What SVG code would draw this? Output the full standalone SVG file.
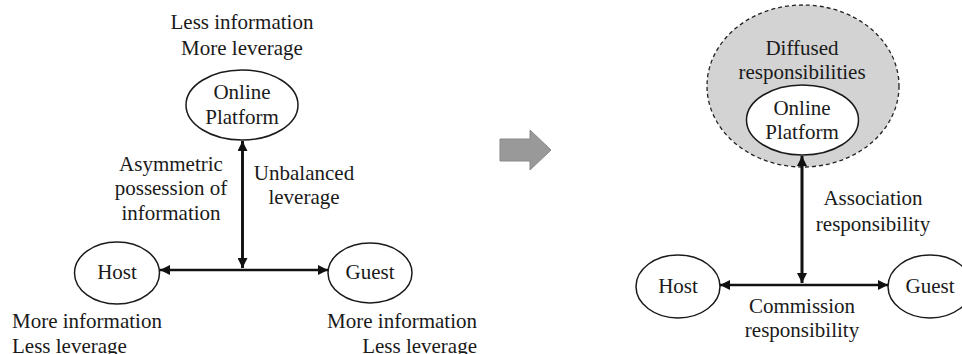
<svg xmlns="http://www.w3.org/2000/svg" width="962" height="354" viewBox="0 0 962 354">
<defs>
<style>
text{font-family:"Liberation Serif","Times New Roman",serif;font-size:21px;fill:#1a1a1a;text-anchor:middle}
.l{text-anchor:start}
.r{text-anchor:end}
.node{fill:#fff;stroke:#1a1a1a;stroke-width:1.5}
.conn{stroke:#111;stroke-width:2.6;fill:none;marker-start:url(#ah);marker-end:url(#ah)}
.half{stroke:#111;stroke-width:2.6;fill:none;marker-end:url(#ah)}
</style>
<marker id="ah" viewBox="0 0 10 10" refX="10" refY="5" markerWidth="11" markerHeight="10" markerUnits="userSpaceOnUse" orient="auto-start-reverse">
<path d="M0,0 L10,5 L0,10 z" fill="#111"/>
</marker>
</defs>
<rect width="962" height="354" fill="#fff"/>

<!-- Left panel -->
<g id="left-platform-label">
<text x="242" y="29">Less information</text>
<text x="242" y="55">More leverage</text>
</g>
<g id="left-platform">
<ellipse class="node" cx="242" cy="105" rx="56" ry="35"/>
<text x="242" y="99">Online</text>
<text x="242" y="124">Platform</text>
</g>
<g id="left-host">
<ellipse class="node" cx="117" cy="273" rx="42.5" ry="31"/>
<text x="117" y="279">Host</text>
</g>
<g id="left-guest">
<ellipse class="node" cx="370" cy="273" rx="42" ry="30"/>
<text x="370" y="279">Guest</text>
</g>
<g id="left-host-label">
<text class="l" x="12" y="328">More information</text>
<text class="l" x="12" y="353">Less leverage</text>
</g>
<g id="left-guest-label">
<text class="r" x="477" y="328">More information</text>
<text class="r" x="477" y="353">Less leverage</text>
</g>
<g id="left-edge-labels">
<text x="171" y="171">Asymmetric</text>
<text x="171" y="195">possession of</text>
<text x="171" y="220">information</text>
<text x="304" y="180">Unbalanced</text>
<text x="304" y="204">leverage</text>
</g>

<!-- transition arrow -->
<g id="transition-arrow">
<path d="M500,139 L530,139 L530,130 L551,150 L530,170 L530,161 L500,161 z" fill="#999" stroke="#888" stroke-width="1"/>
</g>

<!-- Right panel -->
<g id="right-diffused">
<ellipse cx="803" cy="86" rx="96" ry="81" fill="#d3d3d3" stroke="#222" stroke-width="1.3" stroke-dasharray="4,3"/>
<text x="802" y="55">Diffused</text>
<text x="802" y="79">responsibilities</text>
</g>
<g id="right-platform">
<ellipse class="node" cx="802.5" cy="120" rx="56" ry="35"/>
<text x="802" y="115">Online</text>
<text x="802" y="139">Platform</text>
</g>
<g id="right-host">
<ellipse class="node" cx="678" cy="286.5" rx="42" ry="31.5"/>
<text x="678" y="293">Host</text>
</g>
<g id="right-guest">
<ellipse class="node" cx="930" cy="286.5" rx="42" ry="31.5"/>
<text x="930" y="293">Guest</text>
</g>
<g id="right-edge-labels">
<text x="873" y="205">Association</text>
<text x="873" y="231">responsibility</text>
<text x="802" y="313">Commission</text>
<text x="802" y="337">responsibility</text>
</g>

<g id="connectors">
<line class="half" x1="242.5" y1="268" x2="242.5" y2="141"/>
<line class="half" x1="242.5" y1="141" x2="242.5" y2="268"/>
<line class="conn" x1="160" y1="270" x2="328" y2="270"/>
<line class="half" x1="802" y1="283" x2="802" y2="156"/>
<line class="half" x1="802" y1="156" x2="802" y2="283"/>
<line class="conn" x1="720" y1="285" x2="888" y2="285"/>
</g>
</svg>
